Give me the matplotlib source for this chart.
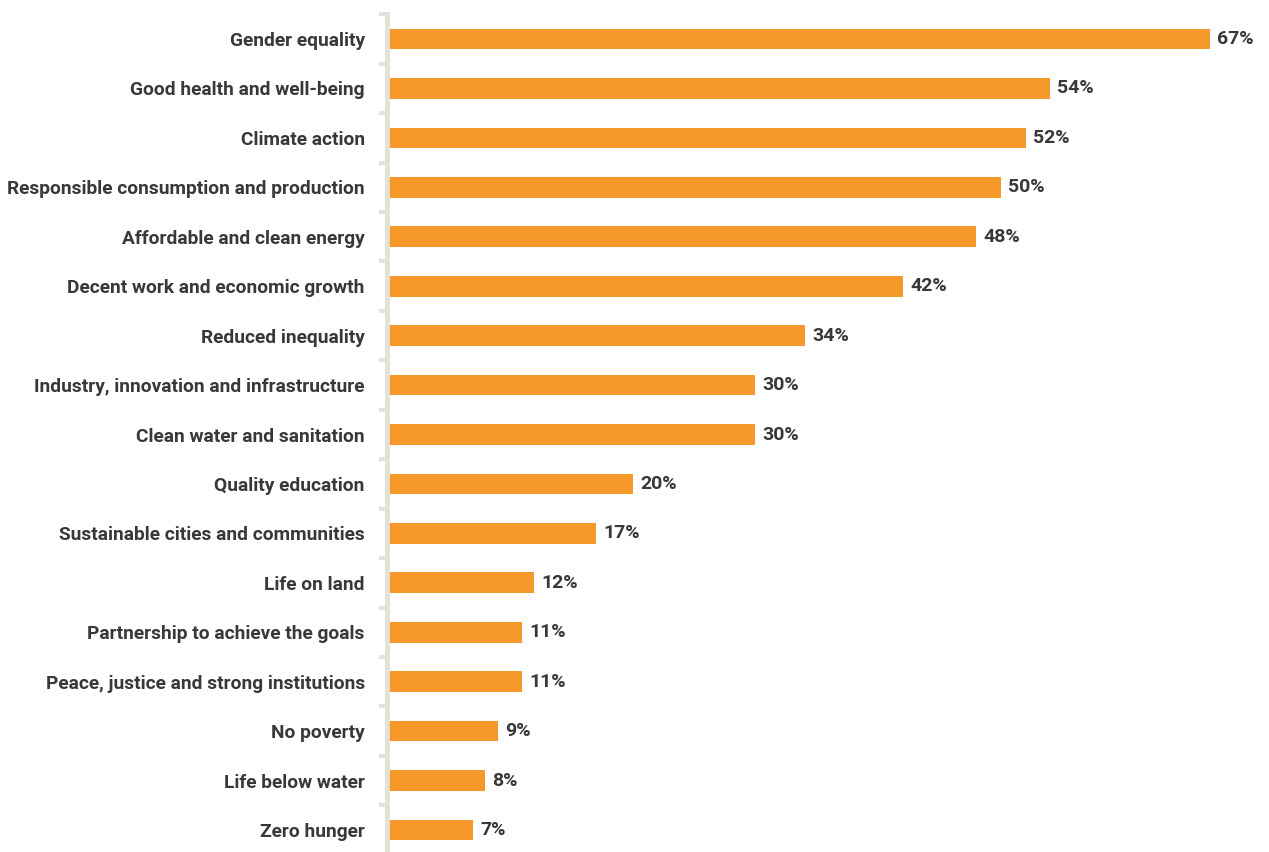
import matplotlib
matplotlib.use("Agg")
import matplotlib.pyplot as plt
from matplotlib import font_manager as fm

categories = [
    "Gender equality",
    "Good health and well-being",
    "Climate action",
    "Responsible consumption and production",
    "Affordable and clean energy",
    "Decent work and economic growth",
    "Reduced inequality",
    "Industry, innovation and infrastructure",
    "Clean water and sanitation",
    "Quality education",
    "Sustainable cities and communities",
    "Life on land",
    "Partnership to achieve the goals",
    "Peace, justice and strong institutions",
    "No poverty",
    "Life below water",
    "Zero hunger",
]
values = [67, 54, 52, 50, 48, 42, 34, 30, 30, 20, 17, 12, 11, 11, 9, 8, 7]

names = {f.name for f in fm.fontManager.ttflist}
fam = "Liberation Sans Narrow" if "Liberation Sans Narrow" in names else "Roboto"
plt.rcParams['font.family'] = [fam, 'DejaVu Sans']

BAR = "#F7992A"
TXT = "#383838"
AX = "#E6E0D6"

W, H = 1269, 852
fig = plt.figure(figsize=(W / 100, H / 100), dpi=100)
left_px = 387
top_px = 14.3
bot_px = 854.7
ax = fig.add_axes([left_px / W, (H - bot_px) / H, 1 - left_px / W, (bot_px - top_px) / H])

n = len(categories)
y = list(range(n))
ax.barh(y, values, height=0.42, color=BAR, edgecolor="none")
ax.set_ylim(n - 0.5, -0.5)
ax.set_xlim(0, (W - left_px) / 12.28)

for yi, v in zip(y, values):
    ax.text(v + 0.6, yi, f"{v}%", va="center", ha="left", fontsize=14,
            fontweight="bold", color=TXT)

ax.set_yticks(y)
ax.set_yticklabels(categories, fontsize=13.8, fontweight="bold", color=TXT)
ax.tick_params(axis="y", which="major", length=0, pad=16)
ax.set_yticks([k + 0.5 for k in range(-1, n)], minor=True)
ax.tick_params(axis="y", which="minor", length=6, width=3, color=AX)
ax.set_xticks([])
for s in ["top", "right", "bottom"]:
    ax.spines[s].set_visible(False)
ax.spines["left"].set_color(AX)
ax.spines["left"].set_linewidth(3.5)
ax.spines["left"].set_bounds(-0.5, n - 0.5)
ax.patch.set_alpha(0)

fig.savefig("out.png", dpi=100)
